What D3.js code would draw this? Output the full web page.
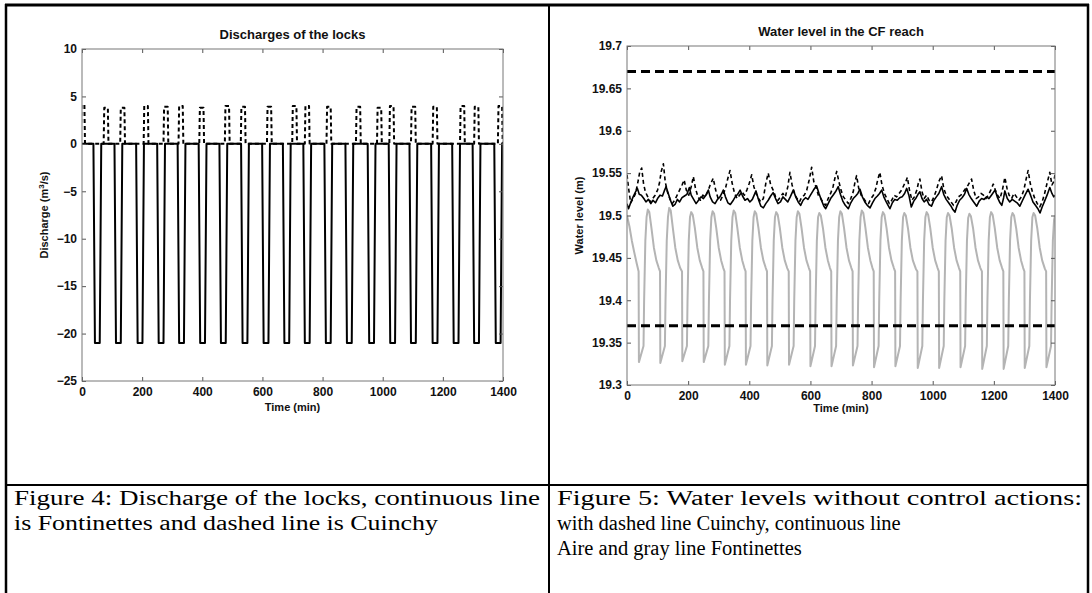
<!DOCTYPE html>
<html>
<head>
<meta charset="utf-8">
<script src="https://cdn.jsdelivr.net/npm/d3@7"></script>
<style>
  body { margin: 0; background: #fff; }
  .tick line { stroke: #555; }
  .plot-title { font-family: "Liberation Sans", Arial, sans-serif; font-size: 13px; font-weight: bold; fill: #111; }
  .axis-label { font-family: "Liberation Sans", Arial, sans-serif; font-size: 11px; font-weight: bold; fill: #111; }
  .caption { font-family: "Liberation Serif", "Times New Roman", serif; font-size: 20.5px; fill: #000; }
</style>
</head>
<body>
<svg id="page" width="1092" height="593"></svg>
<script>
// ---- data ----
const timeTicks = [0, 200, 400, 600, 800, 1000, 1200, 1400];
const dischargeTicks = [-25, -20, -15, -10, -5, 0, 5, 10];
const levelTicks = [19.3, 19.35, 19.4, 19.45, 19.5, 19.55, 19.6, 19.65, 19.7];

// Fontinettes lock discharge pulses: [drop start, reaches bottom, leaves bottom, back at 0] (min), bottom value
const fontinettesBottom = -21;
const fontinettesPulses = [
  [38, 43, 59, 64], [108, 113, 129, 134], [180, 185, 201, 206], [250, 255, 271, 276],
  [318, 323, 339, 344], [388, 393, 409, 414], [457, 462, 478, 483], [529, 534, 550, 555],
  [599, 604, 620, 625], [668, 673, 689, 694], [736, 741, 757, 762], [806, 811, 827, 832],
  [876, 881, 897, 902], [950, 955, 971, 976], [1020, 1025, 1041, 1046], [1089, 1094, 1110, 1115],
  [1161, 1166, 1182, 1187], [1231, 1236, 1252, 1257], [1299, 1304, 1320, 1325], [1371, 1376, 1392, 1397]
];

// Cuinchy lock discharge pulses: [rise start, top start, top end, back at 0, top value]
const cuinchyPulses = [
  [-4, -2, 8, 10, 4.1], [72, 74, 86, 88, 3.8], [127, 129, 141, 143, 3.8], [205, 207, 219, 221, 4.0],
  [271, 273, 285, 287, 3.9], [321, 323, 335, 337, 4.0], [390, 392, 404, 406, 3.8], [475, 477, 489, 491, 4.0],
  [528, 530, 542, 544, 3.9], [615, 617, 629, 631, 3.9], [699, 701, 713, 715, 4.0], [741, 743, 755, 757, 4.0],
  [813, 815, 827, 829, 3.9], [911, 913, 925, 927, 3.9], [981, 983, 995, 997, 3.8], [1022, 1024, 1036, 1038, 4.0],
  [1094, 1096, 1108, 1110, 3.9], [1166, 1168, 1180, 1182, 3.9], [1257, 1259, 1271, 1273, 4.0], [1304, 1306, 1318, 1320, 3.9],
  [1383, 1385, 1397, 1399, 4.0]
];

// water level in the CF reach, [time (min), level (m)]
const fontinettesLevel = [
  [0,19.500],[8,19.487],[16,19.470],[24,19.456],[32,19.443],
  [38,19.434],[39,19.327],[54,19.346],[56,19.40],[60,19.47],[64,19.498],[68,19.507],[73,19.504],[80,19.485],[88,19.462],[96,19.447],[104,19.438],
  [108,19.434],[109,19.326],[124,19.346],[126,19.40],[130,19.47],[134,19.498],[138,19.509],[143,19.506],[150,19.485],[158,19.462],[166,19.447],[174,19.438],
  [180,19.434],[181,19.328],[196,19.346],[198,19.40],[202,19.47],[206,19.498],[210,19.504],[215,19.501],[222,19.485],[230,19.462],[238,19.447],[246,19.438],
  [250,19.434],[251,19.327],[266,19.346],[268,19.40],[272,19.47],[276,19.498],[280,19.505],[285,19.502],[292,19.485],[300,19.462],[308,19.447],[315,19.438],
  [319,19.434],[320,19.324],[335,19.346],[337,19.40],[341,19.47],[345,19.498],[349,19.506],[354,19.503],[361,19.485],[369,19.462],[377,19.447],[384,19.438],
  [388,19.434],[389,19.324],[404,19.346],[406,19.40],[410,19.47],[414,19.498],[418,19.505],[423,19.502],[430,19.485],[438,19.462],[446,19.447],[454,19.438],
  [458,19.434],[459,19.323],[474,19.346],[476,19.40],[480,19.47],[484,19.498],[488,19.504],[493,19.501],[500,19.485],[508,19.462],[516,19.447],[524,19.438],
  [529,19.434],[530,19.324],[545,19.346],[547,19.40],[551,19.47],[555,19.498],[559,19.505],[564,19.502],[571,19.485],[579,19.462],[587,19.447],[595,19.438],
  [599,19.434],[600,19.322],[615,19.346],[617,19.40],[621,19.47],[625,19.498],[629,19.503],[634,19.500],[641,19.485],[649,19.462],[657,19.447],[664,19.438],
  [668,19.434],[669,19.322],[684,19.346],[686,19.40],[690,19.47],[694,19.498],[698,19.505],[703,19.502],[710,19.485],[718,19.462],[726,19.447],[734,19.438],
  [738,19.434],[739,19.323],[754,19.346],[756,19.40],[760,19.47],[764,19.498],[768,19.506],[773,19.503],[780,19.485],[788,19.462],[796,19.447],[803,19.438],
  [807,19.434],[808,19.321],[823,19.346],[825,19.40],[829,19.47],[833,19.498],[837,19.504],[842,19.501],[849,19.485],[857,19.462],[865,19.447],[873,19.438],
  [877,19.434],[878,19.322],[893,19.346],[895,19.40],[899,19.47],[903,19.498],[907,19.503],[912,19.500],[919,19.485],[927,19.462],[935,19.447],[945,19.437],
  [950,19.434],[951,19.320],[966,19.346],[968,19.40],[972,19.47],[976,19.498],[980,19.504],[985,19.501],[992,19.485],[1000,19.462],[1008,19.447],[1016,19.438],
  [1020,19.434],[1021,19.320],[1036,19.346],[1038,19.40],[1042,19.47],[1046,19.498],[1050,19.503],[1055,19.500],[1062,19.485],[1070,19.462],[1078,19.447],[1086,19.438],
  [1090,19.434],[1091,19.321],[1106,19.346],[1108,19.40],[1112,19.47],[1116,19.497],[1120,19.502],[1125,19.499],[1132,19.485],[1140,19.462],[1148,19.447],[1156,19.438],
  [1161,19.434],[1162,19.319],[1177,19.346],[1179,19.40],[1183,19.47],[1187,19.498],[1191,19.504],[1196,19.501],[1203,19.485],[1211,19.462],[1219,19.447],[1227,19.438],
  [1231,19.434],[1232,19.319],[1247,19.346],[1249,19.40],[1253,19.47],[1257,19.498],[1261,19.503],[1266,19.500],[1273,19.485],[1281,19.462],[1289,19.447],[1296,19.438],
  [1300,19.434],[1301,19.320],[1316,19.346],[1318,19.40],[1322,19.47],[1326,19.498],[1330,19.503],[1335,19.500],[1342,19.485],[1350,19.462],[1358,19.447],[1367,19.437],
  [1371,19.434],[1372,19.321],[1387,19.346],[1389,19.40],[1393,19.47],[1397,19.495],[1400,19.500]
];

const aireLevel = [
  [0,19.514],[5,19.508],[12,19.515],[20,19.522],[28,19.528],[34,19.532],[40,19.525],[47,19.524],[55,19.520],[62,19.516],
  [70,19.519],[78,19.514],[85,19.518],[93,19.515],[100,19.520],[108,19.524],[116,19.523],[122,19.529],[128,19.534],[135,19.526],
  [142,19.518],[150,19.511],[157,19.513],[165,19.519],[172,19.516],[180,19.521],[188,19.523],[196,19.525],[204,19.533],[210,19.524],
  [218,19.519],[226,19.514],[234,19.518],[242,19.522],[250,19.520],[258,19.524],[266,19.530],[272,19.522],[280,19.516],[288,19.514],
  [296,19.519],[304,19.522],[310,19.526],[315,19.530],[322,19.522],[330,19.515],[338,19.513],[346,19.517],[354,19.522],[362,19.525],
  [370,19.530],[378,19.523],[386,19.518],[394,19.520],[402,19.516],[410,19.519],[416,19.524],[422,19.529],[430,19.519],[438,19.511],
  [446,19.509],[454,19.514],[462,19.518],[470,19.523],[478,19.527],[486,19.520],[494,19.514],[502,19.516],[510,19.522],[518,19.519],
  [526,19.516],[534,19.522],[544,19.530],[552,19.522],[560,19.516],[568,19.512],[576,19.518],[584,19.521],[592,19.519],[600,19.524],
  [610,19.530],[620,19.535],[628,19.526],[636,19.518],[644,19.511],[650,19.508],[658,19.514],[666,19.520],[674,19.524],[682,19.528],
  [691,19.534],[698,19.525],[706,19.517],[714,19.512],[724,19.508],[732,19.515],[740,19.520],[748,19.523],[755,19.526],[762,19.531],
  [770,19.522],[778,19.516],[786,19.512],[795,19.509],[803,19.515],[811,19.520],[819,19.523],[826,19.526],[833,19.530],[840,19.522],
  [848,19.516],[854,19.512],[860,19.508],[868,19.515],[876,19.519],[884,19.518],[892,19.521],[900,19.522],[908,19.526],[915,19.532],
  [922,19.524],[930,19.510],[938,19.517],[946,19.521],[952,19.525],[958,19.528],[965,19.520],[972,19.516],[980,19.519],[988,19.513],
  [996,19.511],[1004,19.518],[1012,19.522],[1020,19.526],[1029,19.534],[1036,19.525],[1044,19.519],[1052,19.515],[1060,19.511],[1066,19.507],
  [1073,19.504],[1080,19.512],[1088,19.518],[1096,19.521],[1104,19.525],[1111,19.532],[1118,19.525],[1126,19.520],[1134,19.516],[1144,19.511],
  [1152,19.517],[1160,19.520],[1168,19.519],[1176,19.522],[1184,19.520],[1192,19.524],[1204,19.530],[1212,19.521],[1220,19.515],[1226,19.512],
  [1232,19.521],[1236,19.529],[1244,19.520],[1252,19.516],[1260,19.519],[1268,19.517],[1276,19.515],[1285,19.511],[1294,19.518],[1302,19.524],
  [1312,19.531],[1320,19.524],[1328,19.516],[1336,19.512],[1344,19.508],[1351,19.503],[1358,19.510],[1366,19.517],[1374,19.524],[1383,19.533],
  [1390,19.526],[1396,19.522],[1400,19.524]
];

const cuinchyLevel = [
  [0,19.548],[6,19.530],[12,19.515],[20,19.520],[28,19.526],[36,19.540],[42,19.552],[48,19.556],[54,19.538],[60,19.528],
  [68,19.522],[76,19.516],[84,19.520],[92,19.524],[100,19.530],[106,19.538],[112,19.552],[119,19.561],[125,19.540],[132,19.528],
  [140,19.520],[148,19.514],[156,19.518],[164,19.524],[172,19.530],[180,19.536],[187,19.542],[194,19.530],[202,19.524],[210,19.534],
  [217,19.546],[224,19.532],[232,19.522],[240,19.518],[248,19.524],[256,19.522],[264,19.528],[272,19.536],[282,19.544],[290,19.530],
  [298,19.520],[306,19.518],[314,19.524],[322,19.532],[330,19.544],[337,19.553],[344,19.538],[352,19.526],[360,19.520],[368,19.524],
  [376,19.528],[384,19.524],[392,19.530],[400,19.538],[408,19.548],[415,19.534],[422,19.526],[430,19.520],[438,19.516],[446,19.520],
  [454,19.538],[462,19.550],[470,19.536],[478,19.530],[486,19.522],[494,19.518],[502,19.522],[510,19.526],[518,19.522],[526,19.534],
  [533,19.551],[540,19.536],[548,19.526],[556,19.520],[564,19.516],[572,19.522],[580,19.524],[588,19.530],[596,19.542],[604,19.557],
  [611,19.540],[618,19.534],[626,19.524],[634,19.520],[642,19.515],[650,19.512],[658,19.520],[666,19.526],[674,19.534],[680,19.544],
  [686,19.552],[693,19.540],[700,19.530],[708,19.522],[716,19.518],[724,19.514],[732,19.520],[740,19.528],[746,19.540],[751,19.547],
  [758,19.532],[766,19.524],[774,19.520],[782,19.516],[790,19.514],[798,19.520],[806,19.524],[814,19.532],[820,19.542],[827,19.551],
  [834,19.536],[842,19.526],[850,19.520],[858,19.514],[866,19.518],[874,19.524],[882,19.522],[890,19.526],[898,19.530],[906,19.536],
  [912,19.540],[917,19.545],[924,19.530],[932,19.518],[940,19.522],[948,19.530],[953,19.538],[958,19.543],[965,19.528],[972,19.520],
  [980,19.524],[988,19.518],[996,19.516],[1004,19.522],[1012,19.530],[1020,19.540],[1029,19.547],[1036,19.532],[1044,19.524],[1052,19.520],
  [1060,19.516],[1068,19.512],[1076,19.516],[1084,19.522],[1092,19.524],[1100,19.528],[1108,19.532],[1116,19.536],[1122,19.540],[1127,19.543],
  [1134,19.530],[1142,19.520],[1150,19.522],[1158,19.526],[1166,19.524],[1174,19.520],[1182,19.524],[1190,19.530],[1198,19.537],[1205,19.530],
  [1212,19.524],[1220,19.520],[1228,19.530],[1236,19.545],[1243,19.532],[1250,19.524],[1258,19.520],[1266,19.526],[1274,19.522],[1282,19.518],
  [1290,19.522],[1298,19.530],[1305,19.542],[1312,19.553],[1319,19.538],[1326,19.528],[1334,19.520],[1342,19.514],[1350,19.510],[1358,19.516],
  [1366,19.526],[1374,19.538],[1383,19.551],[1390,19.536],[1396,19.540],[1400,19.548]
];

// upper and lower level limits (dashed)
const levelLimits = [19.67, 19.37];

// caption lines and the widths they take in the scan
const captionLeft = ["Figure 4: Discharge of the locks, continuous line", "is Fontinettes and dashed line is Cuinchy"];
const captionRight = ["Figure 5: Water levels without control actions:", "with dashed line Cuinchy, continuous line", "Aire and gray line Fontinettes"];
const capWidthsLeft = [526, 424];
const capWidthsRight = [525, null, null];

// step series built from the pulse tables
const fontinettesQ = [[0, 0]];
fontinettesPulses.forEach(p => {
  fontinettesQ.push([p[0], 0], [p[1], fontinettesBottom], [p[2], fontinettesBottom], [p[3], 0]);
});
fontinettesQ.push([1400, 0]);

const cuinchyQ = [];
cuinchyPulses.forEach(p => {
  cuinchyQ.push([p[0], 0], [p[1], p[4]], [p[2], p[4]], [p[3], 0]);
});
cuinchyQ.push([1400, 0]);

const svg = d3.select('#page');
svg.append('rect').attr('width', 1092).attr('height', 593).attr('fill', '#fff');

class TimePlot {
  constructor(_config) {
    this.config = {
      id: _config.id,
      left: _config.left,
      top: _config.top,
      width: _config.width,
      height: _config.height,
      yDomain: _config.yDomain,
      yTicks: _config.yTicks,
      yFormat: _config.yFormat,
      title: _config.title,
      yLabel: _config.yLabel,
      yLabelX: _config.yLabelX,
      xLabelY: _config.xLabelY
    };
    this.initVis();
  }

  initVis() {
    let vis = this;
    const c = vis.config;

    vis.xScale = d3.scaleLinear().domain([0, 1400]).range([0, c.width]);
    vis.yScale = d3.scaleLinear().domain(c.yDomain).range([c.height, 0]);

    vis.chart = svg.append('g').attr('transform', `translate(${c.left},${c.top})`);

    vis.chart.append('clipPath').attr('id', `clip-${c.id}`)
      .append('rect').attr('width', c.width).attr('height', c.height);

    vis.lines = vis.chart.append('g').attr('clip-path', `url(#clip-${c.id})`);

    // MATLAB style: ticks pointing inwards on all four sides
    const xAxis = d3.axisBottom(vis.xScale).tickValues(timeTicks).tickSizeInner(-4).tickSizeOuter(0)
      .tickPadding(6).tickFormat(d3.format('d'));
    const xAxisTop = d3.axisTop(vis.xScale).tickValues(timeTicks).tickSizeInner(-4).tickSizeOuter(0).tickFormat('');
    const yAxis = d3.axisLeft(vis.yScale).tickValues(c.yTicks).tickSizeInner(-4).tickSizeOuter(0)
      .tickPadding(5).tickFormat(c.yFormat);
    const yAxisRight = d3.axisRight(vis.yScale).tickValues(c.yTicks).tickSizeInner(-4).tickSizeOuter(0).tickFormat('');

    vis.chart.append('g').attr('transform', `translate(0,${c.height})`).call(xAxis);
    vis.chart.append('g').call(xAxisTop);
    vis.chart.append('g').call(yAxis);
    vis.chart.append('g').attr('transform', `translate(${c.width},0)`).call(yAxisRight);
    vis.chart.selectAll('.domain').remove();
    vis.chart.selectAll('.tick text')
      .attr('font-family', '"Liberation Sans", Arial, Helvetica, sans-serif')
      .attr('font-size', 12)
      .attr('font-weight', 'bold')
      .attr('fill', '#111');

    vis.chart.append('rect')
      .attr('width', c.width).attr('height', c.height)
      .attr('fill', 'none').attr('stroke', '#777').attr('stroke-width', 1);

    // title and axis labels
    vis.chart.append('text').attr('class', 'plot-title')
      .attr('x', c.width / 2).attr('y', -10)
      .attr('text-anchor', 'middle').text(c.title);

    vis.chart.append('text').attr('class', 'axis-label')
      .attr('x', c.width / 2).attr('y', c.height + c.xLabelY)
      .attr('text-anchor', 'middle').text('Time (min)');

    const yl = vis.chart.append('text').attr('class', 'axis-label')
      .attr('transform', `translate(${c.yLabelX},${c.height / 2}) rotate(-90)`)
      .attr('text-anchor', 'middle').attr('dy', '0.35em');
    c.yLabel.forEach(part => {
      const t = yl.append('tspan').text(part.text);
      if (part.sup) t.attr('baseline-shift', 'super').attr('font-size', '8px');
    });
  }

  addLine(data, style) {
    let vis = this;
    const line = d3.line()
      .x(d => vis.xScale(d[0]))
      .y(d => vis.yScale(d[1]));
    vis.lines.append('path')
      .datum(data)
      .attr('d', line)
      .attr('fill', 'none')
      .attr('stroke', style.color)
      .attr('stroke-width', style.width)
      .attr('stroke-dasharray', style.dash || null)
      .attr('stroke-linejoin', 'round');
  }
}

// ---- Figure 4: discharges ----
const dischargePlot = new TimePlot({
  id: 'q', left: 82, top: 49, width: 421, height: 332,
  yDomain: [-25, 10], yTicks: dischargeTicks, yFormat: d3.format('d'),
  title: 'Discharges of the locks',
  yLabel: [{text: 'Discharge (m'}, {text: '3', sup: true}, {text: '/s)'}],
  yLabelX: -38, xLabelY: 30
});
dischargePlot.addLine(cuinchyQ, {color: '#000', width: 2, dash: '4,3'});
dischargePlot.addLine(fontinettesQ, {color: '#000', width: 2});

// ---- Figure 5: water levels ----
const levelPlot = new TimePlot({
  id: 'h', left: 627, top: 46, width: 428, height: 339,
  yDomain: [19.3, 19.7], yTicks: levelTicks, yFormat: d => d3.format('.2~f')(d),
  title: 'Water level in the CF reach',
  yLabel: [{text: 'Water level (m)'}],
  yLabelX: -48, xLabelY: 27
});
levelPlot.addLine(fontinettesLevel, {color: '#b4b4b4', width: 2});
levelPlot.addLine(aireLevel, {color: '#000', width: 1.6});
levelPlot.addLine(cuinchyLevel, {color: '#000', width: 1.6, dash: '4,3'});
levelLimits.forEach(v => {
  levelPlot.addLine([[0, v], [1400, v]], {color: '#000', width: 3, dash: '9,5'});
});

// ---- table frame ----
const frame = svg.append('g').attr('stroke', '#000');
frame.append('line').attr('x1', 5).attr('x2', 1089).attr('y1', 5).attr('y2', 5).attr('stroke-width', 3);
frame.append('line').attr('x1', 6).attr('x2', 6).attr('y1', 4).attr('y2', 593).attr('stroke-width', 2.5);
frame.append('line').attr('x1', 1088).attr('x2', 1088).attr('y1', 4).attr('y2', 593).attr('stroke-width', 2.5);
frame.append('line').attr('x1', 549).attr('x2', 549).attr('y1', 4).attr('y2', 593).attr('stroke-width', 2);
frame.append('line').attr('x1', 5).attr('x2', 1089).attr('y1', 485).attr('y2', 485).attr('stroke-width', 2);

// ---- captions ----
function addCaption(lines, widths, x) {
  lines.forEach((s, i) => {
    const t = svg.append('text').attr('class', 'caption')
      .attr('x', x).attr('y', 505 + i * 25)
      .text(s);
    if (widths[i]) t.attr('textLength', widths[i]).attr('lengthAdjust', 'spacingAndGlyphs');
  });
}
addCaption(captionLeft, capWidthsLeft, 14);
addCaption(captionRight, capWidthsRight, 557);
</script>
</body>
</html>
